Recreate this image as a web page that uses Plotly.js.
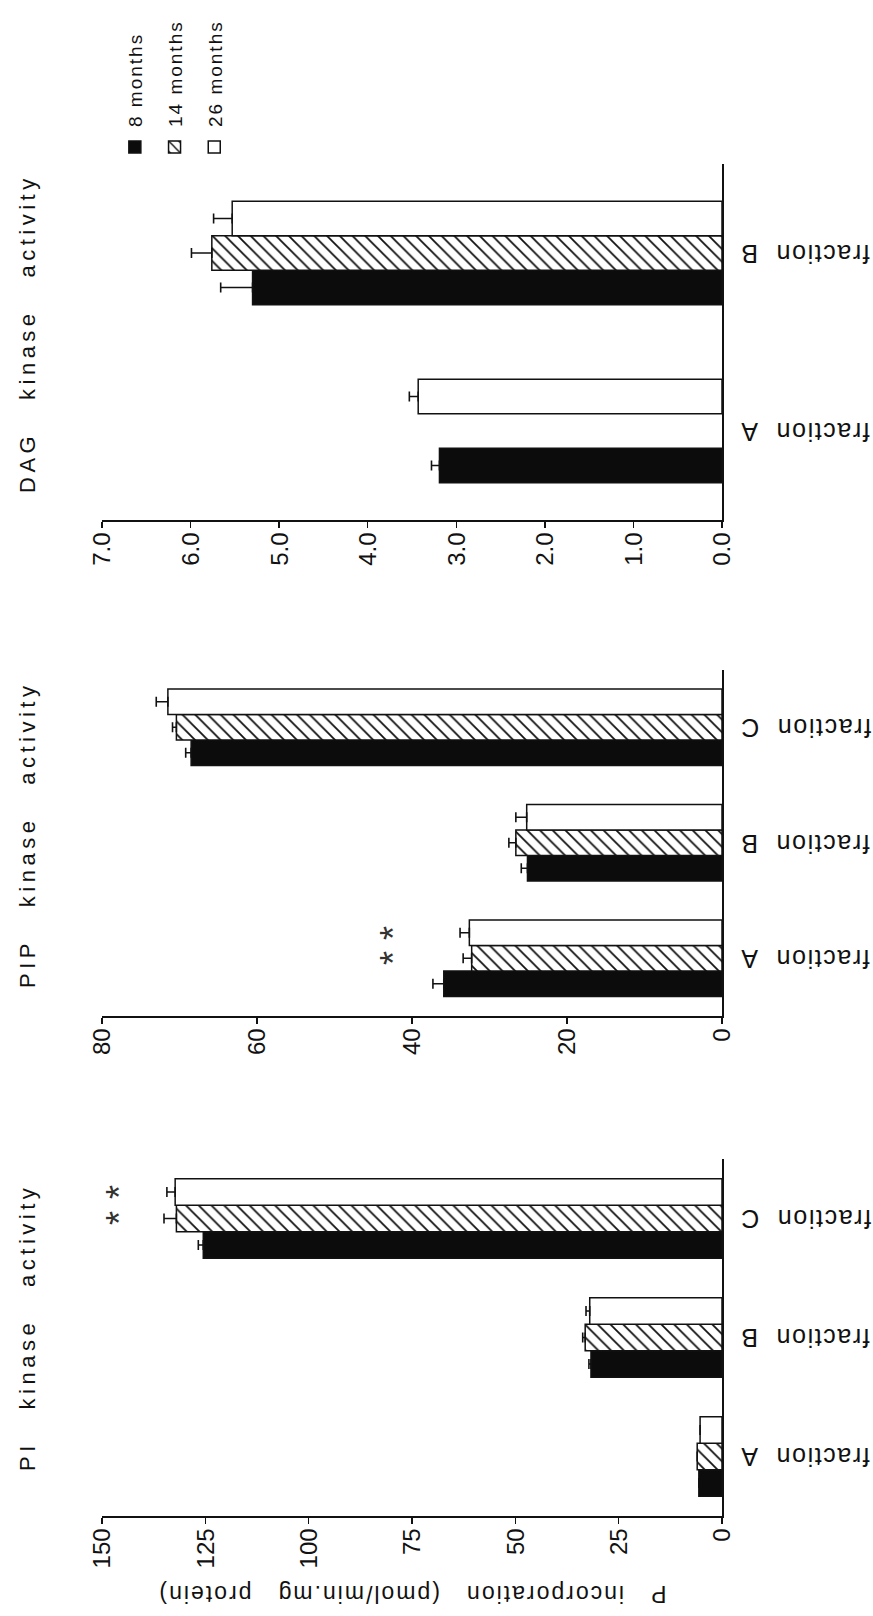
<!DOCTYPE html>
<html>
<head>
<meta charset="utf-8">
<script src="https://cdn.plot.ly/plotly-3.0.1.min.js"></script>
<style>
html,body{margin:0;padding:0;background:#fff;overflow:hidden;width:873px;height:1616px;}
#wrap{position:absolute;left:0;top:0;width:1616px;height:873px;transform-origin:0 0;transform:translate(0px,1616px) rotate(-90deg);}
</style>
</head>
<body>
<div id="wrap"></div>
<script>
// ---------------- DATA ----------------
const seriesNames = ['8 months', '14 months', '26 months'];

const piTitle = 'PI kinase activity';
const piCategories = ['fraction A', 'fraction B', 'fraction C'];
const pi8 = [5.6, 31.7, 125.5];
const pi14 = [6.0, 33.1, 132.0];
const pi26 = [5.3, 32.0, 132.3];
const pi8Err = [0, 0.5, 1.2];
const pi14Err = [0, 0.6, 3.0];
const pi26Err = [0, 0.9, 2.0];
const piTicks = [0, 25, 50, 75, 100, 125, 150];

const pipTitle = 'PIP kinase activity';
const pipCategories = ['fraction A', 'fraction B', 'fraction C'];
const pip8 = [35.9, 25.1, 68.5];
const pip14 = [32.3, 26.6, 70.4];
const pip26 = [32.6, 25.2, 71.5];
const pip8Err = [1.4, 0.8, 0.7];
const pip14Err = [1.1, 0.9, 0.5];
const pip26Err = [1.2, 1.4, 1.5];
const pipTicks = [0, 20, 40, 60, 80];

const dagTitle = 'DAG kinase activity';
const dagCategories = ['fraction A', 'fraction B'];
const dag8 = [3.19, 5.30];
const dag14 = [null, 5.76];
const dag26 = [3.43, 5.53];
const dag8Err = [0.09, 0.36];
const dag14Err = [null, 0.23];
const dag26Err = [0.10, 0.21];
const dagTicks = [0, 1, 2, 3, 4, 5, 6, 7];

const yAxisTitle = 'P incorporation (pmol/min.mg protein)';

// significance marks: category index, series index, level
const piStarCat = [2, 2];
const piStarSeries = [1, 2];
const piStarLevel = [148, 148];
const pipStarCat = [0, 0];
const pipStarSeries = [1, 2];
const pipStarLevel = [43.5, 43.5];

// ---------------- LAYOUT / STYLE ----------------
const W = 1616, H = 873;
const FONT = 'Liberation Sans, Arial, Helvetica, sans-serif';
const INK = '#111';
const yDom = [1 - 722 / H, 1 - 102 / H];

function spaced(s, ls, gap) {
  const g = '\u00a0'.repeat(gap);
  return '<span style="letter-spacing:' + ls + 'px">' + s.split(' ').join(g) + '</span>';
}

const panels = [
  {title: piTitle, cats: piCategories, vals: [pi8, pi14, pi26], errs: [pi8Err, pi14Err, pi26Err],
   ticks: piTicks, range: [0, 150], fmt: '', px: [100, 457], barW: 0.223, titleX: 288,
   starCat: piStarCat, starSeries: piStarSeries, starLevel: piStarLevel},
  {title: pipTitle, cats: pipCategories, vals: [pip8, pip14, pip26], errs: [pip8Err, pip14Err, pip26Err],
   ticks: pipTicks, range: [0, 80], fmt: '', px: [600, 946.5], barW: 0.221, titleX: 781,
   starCat: pipStarCat, starSeries: pipStarSeries, starLevel: pipStarLevel},
  {title: dagTitle, cats: dagCategories, vals: [dag8, dag14, dag26], errs: [dag8Err, dag14Err, dag26Err],
   ticks: dagTicks, range: [0, 7], fmt: '.1f', px: [1096, 1452], barW: 0.194, titleX: 1282,
   starCat: [], starSeries: [], starLevel: []}
];

const seriesStyles = [
  {color: '#0c0c0c'},
  {color: 'white', pattern: {shape: '/', fgcolor: INK, bgcolor: 'white', size: 9, solidity: 0.2}},
  {color: 'white'}
];

const traces = [];
const annotations = [];
const layout = {
  width: W, height: H,
  margin: {l: 0, r: 0, t: 0, b: 0},
  paper_bgcolor: 'white', plot_bgcolor: 'white',
  barmode: 'overlay',
  font: {family: FONT, color: INK},
  showlegend: true,
  legend: {
    x: 1449 / W, xanchor: 'left', y: 1 - 116 / H, yanchor: 'top',
    font: {family: FONT, size: 19, color: INK},
    bgcolor: 'rgba(0,0,0,0)', borderwidth: 0,
    traceorder: 'grouped', tracegroupgap: 12
  },
  annotations: annotations
};

panels.forEach((p, k) => {
  const sfx = k === 0 ? '' : String(k + 1);
  const xa = 'x' + sfx, ya = 'y' + sfx;
  const n = p.cats.length;
  const idx = p.cats.map((c, i) => i);
  p.vals.forEach((v, s) => {
    const st = seriesStyles[s];
    const marker = {color: st.color, line: {color: INK, width: 1.5}};
    if (st.pattern) marker.pattern = st.pattern;
    traces.push({
      type: 'bar', x: p.cats, y: v,
      name: spaced(seriesNames[s], 2, 1),
      legendgroup: 'g' + s, showlegend: k === 0,
      xaxis: xa, yaxis: ya,
      width: p.barW, offset: (s - 1.5) * p.barW,
      marker: marker,
      error_y: {type: 'data', symmetric: false, array: p.errs[s],
                arrayminus: p.errs[s].map(e => e === null ? null : 0),
                color: INK, thickness: 1.6, width: 5},
      hoverinfo: 'skip'
    });
  });
  layout['xaxis' + sfx] = {
    type: 'category', anchor: ya,
    domain: [p.px[0] / W, p.px[1] / W],
    range: [-0.5, n - 0.5],
    showline: true, linecolor: INK, linewidth: 1.6,
    ticks: '', showgrid: false, zeroline: false,
    tickmode: 'array', tickvals: p.cats,
    ticktext: p.cats.map(c => spaced(c, 1.6, 2)),
    tickangle: -90, ticklabelstandoff: 6,
    tickfont: {family: FONT, size: 25, color: INK}
  };
  layout['yaxis' + sfx] = {
    anchor: xa, domain: yDom, range: p.range,
    showline: true, linecolor: INK, linewidth: 1.6,
    ticks: 'outside', ticklen: 6, tickwidth: 1.5, tickcolor: INK,
    tickmode: 'array', tickvals: p.ticks,
    ticktext: p.ticks.map(t => p.fmt ? t.toFixed(1) : String(t)),
    showgrid: false, zeroline: false,
    tickfont: {family: FONT, size: 24, color: INK}
  };
  annotations.push({
    xref: 'paper', yref: 'paper', x: p.titleX / W, y: 1 - 27 / H,
    xanchor: 'center', yanchor: 'middle', showarrow: false,
    text: spaced(p.title, 4.5, 3),
    font: {family: FONT, size: 22, color: INK}
  });
  p.starCat.forEach((c, j) => {
    annotations.push({
      xref: xa, yref: ya,
      x: c + (p.starSeries[j] - 1) * p.barW, y: p.starLevel[j],
      xanchor: 'center', yanchor: 'middle', showarrow: false,
      text: '*', yshift: -9,
      font: {family: FONT, size: 36, color: '#333'}
    });
  });
});

layout.yaxis.title = {
  text: spaced(yAxisTitle, 2, 3),
  font: {family: FONT, size: 23, color: INK},
  standoff: 10
};

Plotly.newPlot('wrap', traces, layout, {displayModeBar: false, staticPlot: true});
</script>
</body>
</html>
